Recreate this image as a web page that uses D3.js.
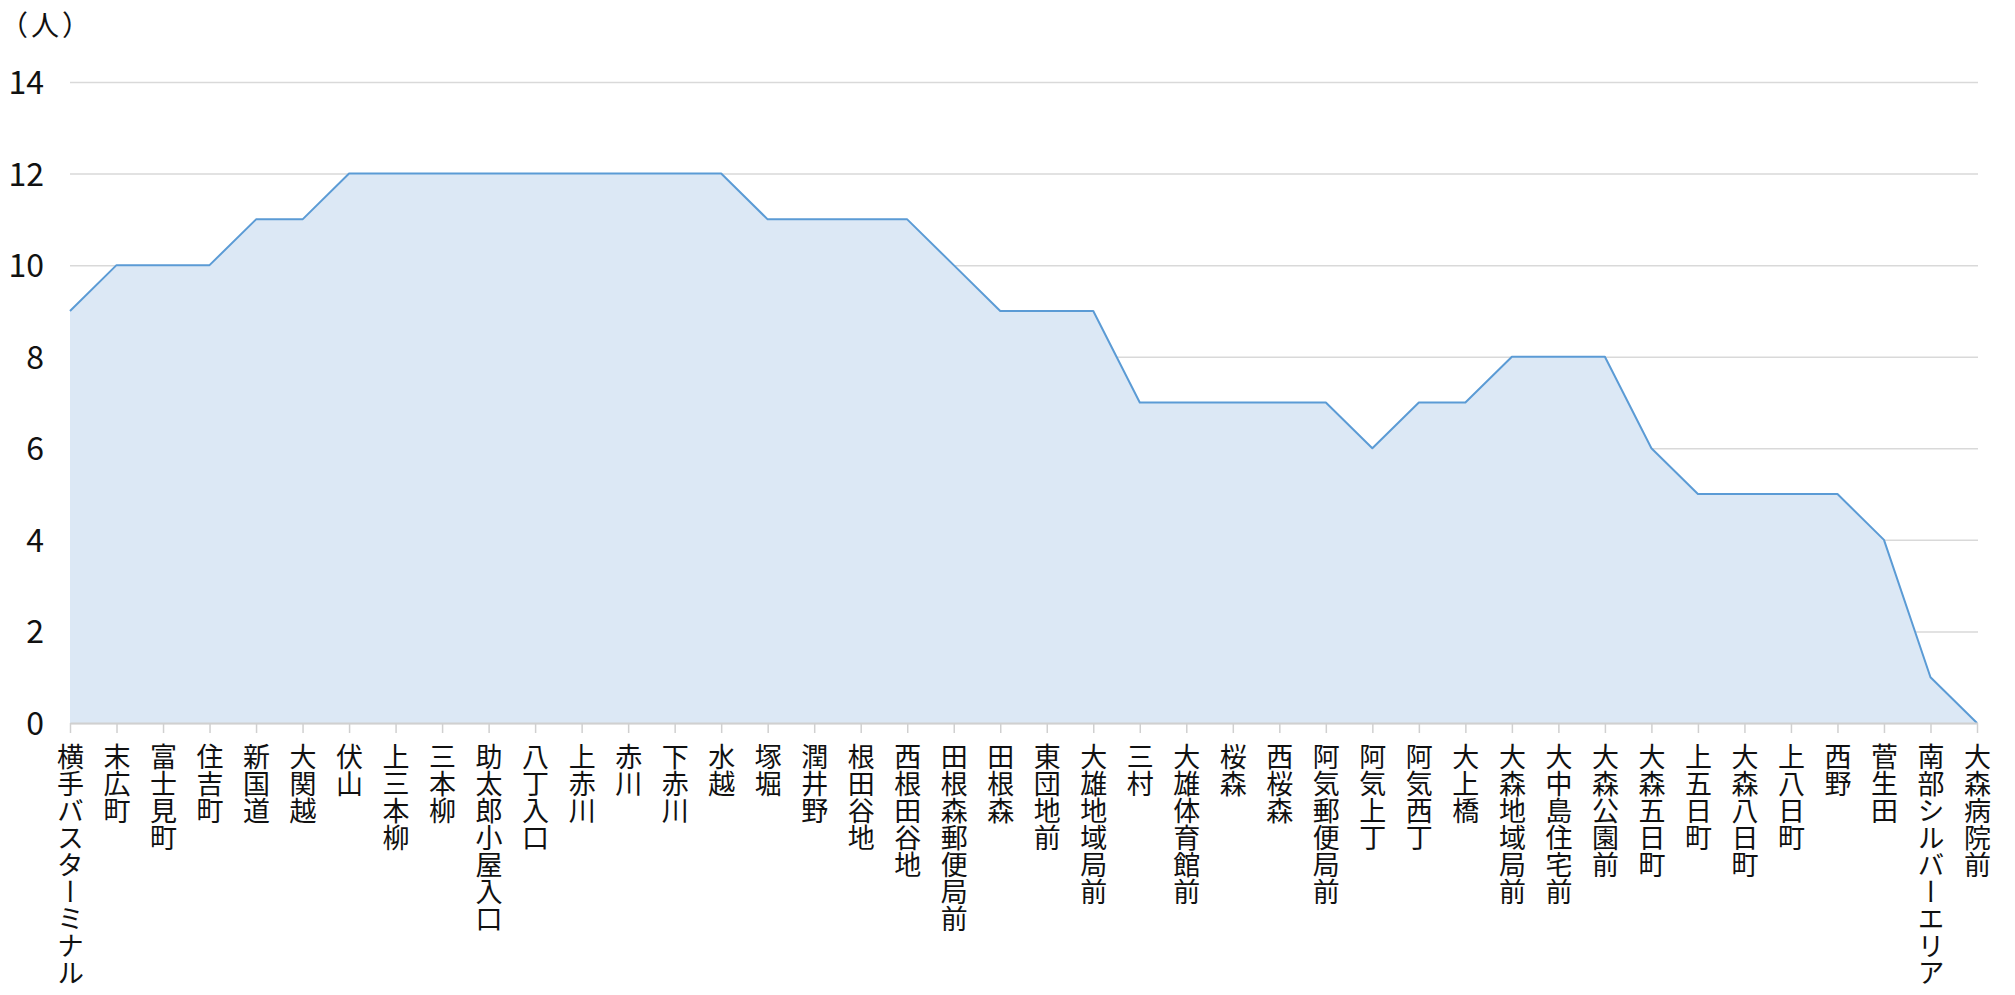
<!DOCTYPE html>
<html>
<head>
<meta charset="utf-8">
<script src="https://cdn.jsdelivr.net/npm/d3@7"></script>
<style>
  html, body { margin: 0; padding: 0; background: #fff; }
  svg text { font-family: "Noto Sans CJK JP", "Noto Sans", sans-serif; fill: #111; }
</style>
</head>
<body>
<div id="chart"></div>
<script>
// ------------------------------------------------- Data -------------------------------------------------
const stops = [
    "横手バスターミナル", "末広町", "富士見町", "住吉町", "新国道", "大関越", "伏山",
    "上三本柳", "三本柳", "助太郎小屋入口", "八丁入口", "上赤川", "赤川", "下赤川",
    "水越", "塚堀", "潤井野", "根田谷地", "西根田谷地", "田根森郵便局前", "田根森",
    "東団地前", "大雄地域局前", "三村", "大雄体育館前", "桜森", "西桜森", "阿気郵便局前",
    "阿気上丁", "阿気西丁", "大上橋", "大森地域局前", "大中島住宅前", "大森公園前",
    "大森五日町", "上五日町", "大森八日町", "上八日町", "西野", "菅生田",
    "南部シルバーエリア", "大森病院前"
];
const passengers = [
    9, 10, 10, 10, 11, 11, 12,
    12, 12, 12, 12, 12, 12, 12,
    12, 11, 11, 11, 11, 10, 9,
    9, 9, 7, 7, 7, 7, 7,
    6, 7, 7, 8, 8, 8,
    6, 5, 5, 5, 5, 4,
    1, 0
];
const yTicks = [0, 2, 4, 6, 8, 10, 12, 14];
const unitLabel = "（人）";

// ------------------------------------------------- Layout -------------------------------------------------
const width = 2015, height = 995;
const margin = { left: 70, right: 38, top: 82, bottom: 272 };

const svg = d3.select("#chart").append("svg")
    .attr("width", width)
    .attr("height", height);

const x = d3.scalePoint()
    .domain(stops)
    .range([margin.left, width - margin.right]);

const y = d3.scaleLinear()
    .domain([0, 14])
    .range([height - margin.bottom, margin.top]);

// ------------------------------------------------- Grid + y axis -------------------------------------------------
const yAxis = svg.append("g")
    .attr("transform", `translate(${margin.left},0)`)
    .call(d3.axisLeft(y).tickValues(yTicks).tickSize(-(width - margin.left - margin.right) - 1).tickPadding(26));

yAxis.select(".domain").remove();
yAxis.selectAll(".tick line")
    .attr("stroke", "#d9d9d9")
    .attr("stroke-width", 1.5);
yAxis.selectAll(".tick text")
    .style("font-size", "32px")
    .attr("dy", "0.36em");

// unit label (top left)
svg.append("text")
    .attr("x", 0)
    .attr("y", 36)
    .style("font-size", "28px")
    .style("letter-spacing", "3px")
    .text(unitLabel);

// ------------------------------------------------- Area -------------------------------------------------
const area = d3.area()
    .x((d, i) => x(stops[i]))
    .y0(y(0))
    .y1(d => y(d));

const line = d3.line()
    .x((d, i) => x(stops[i]))
    .y(d => y(d));

svg.append("path")
    .datum(passengers)
    .attr("fill", "#dce8f5")
    .attr("d", area);

svg.append("path")
    .datum(passengers)
    .attr("fill", "none")
    .attr("stroke", "#5b9bd5")
    .attr("stroke-width", 2)
    .attr("stroke-linejoin", "round")
    .attr("d", line);

// ------------------------------------------------- x axis -------------------------------------------------
const xAxis = svg.append("g")
    .attr("transform", `translate(0,${y(0)})`)
    .call(d3.axisBottom(x).tickSize(10).tickSizeOuter(0));

xAxis.select(".domain")
    .attr("stroke", "#d0d0d0")
    .attr("stroke-width", 2);
xAxis.selectAll(".tick line")
    .attr("stroke", "#d0d0d0")
    .attr("stroke-width", 1.5);

// vertical stop names
xAxis.selectAll(".tick text").remove();
xAxis.selectAll(".tick").append("text")
    .attr("x", 0)
    .attr("y", 20)
    .style("writing-mode", "vertical-rl")
    .style("font-size", "27px")
    .attr("text-anchor", "start")
    .text(d => d);
</script>
</body>
</html>
